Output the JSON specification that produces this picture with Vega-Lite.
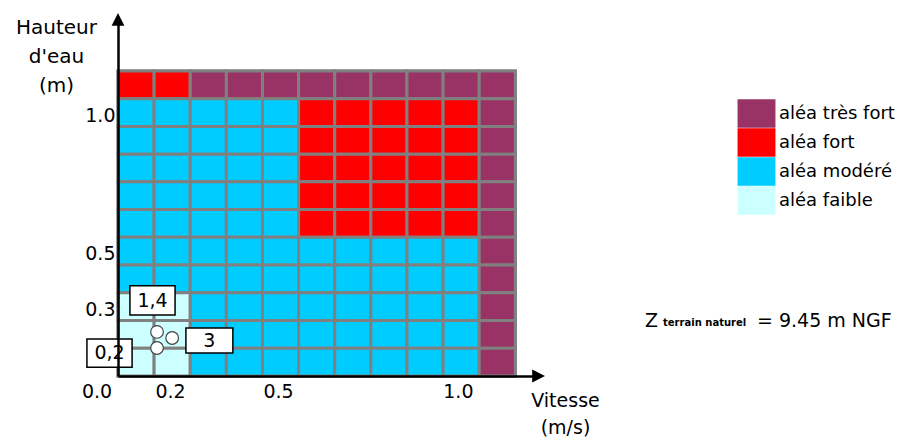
{
  "$schema": "https://vega.github.io/schema/vega-lite/v6.json",
  "width": 419,
  "height": 355,
  "autosize": {"type": "none"},
  "padding": {"left": 118, "top": 21, "right": 378, "bottom": 61},
  "background": "white",
  "config": {
    "view": {"stroke": null},
    "font": "DejaVu Sans",
    "text": {"font": "DejaVu Sans", "color": "black"}
  },
  "datasets": {
    "frame": [{"v0": 0, "v1": 11, "h0": 0, "h1": 11}],
    "cells": [
      {"v0":0,"v1":1,"h0":10,"h1":11,"alea":"aléa fort"},
      {"v0":1,"v1":2,"h0":10,"h1":11,"alea":"aléa fort"},
      {"v0":2,"v1":3,"h0":10,"h1":11,"alea":"aléa très fort"},
      {"v0":3,"v1":4,"h0":10,"h1":11,"alea":"aléa très fort"},
      {"v0":4,"v1":5,"h0":10,"h1":11,"alea":"aléa très fort"},
      {"v0":5,"v1":6,"h0":10,"h1":11,"alea":"aléa très fort"},
      {"v0":6,"v1":7,"h0":10,"h1":11,"alea":"aléa très fort"},
      {"v0":7,"v1":8,"h0":10,"h1":11,"alea":"aléa très fort"},
      {"v0":8,"v1":9,"h0":10,"h1":11,"alea":"aléa très fort"},
      {"v0":9,"v1":10,"h0":10,"h1":11,"alea":"aléa très fort"},
      {"v0":10,"v1":11,"h0":10,"h1":11,"alea":"aléa très fort"},

      {"v0":0,"v1":1,"h0":9,"h1":10,"alea":"aléa modéré"},
      {"v0":1,"v1":2,"h0":9,"h1":10,"alea":"aléa modéré"},
      {"v0":2,"v1":3,"h0":9,"h1":10,"alea":"aléa modéré"},
      {"v0":3,"v1":4,"h0":9,"h1":10,"alea":"aléa modéré"},
      {"v0":4,"v1":5,"h0":9,"h1":10,"alea":"aléa modéré"},
      {"v0":5,"v1":6,"h0":9,"h1":10,"alea":"aléa fort"},
      {"v0":6,"v1":7,"h0":9,"h1":10,"alea":"aléa fort"},
      {"v0":7,"v1":8,"h0":9,"h1":10,"alea":"aléa fort"},
      {"v0":8,"v1":9,"h0":9,"h1":10,"alea":"aléa fort"},
      {"v0":9,"v1":10,"h0":9,"h1":10,"alea":"aléa fort"},
      {"v0":10,"v1":11,"h0":9,"h1":10,"alea":"aléa très fort"},

      {"v0":0,"v1":1,"h0":8,"h1":9,"alea":"aléa modéré"},
      {"v0":1,"v1":2,"h0":8,"h1":9,"alea":"aléa modéré"},
      {"v0":2,"v1":3,"h0":8,"h1":9,"alea":"aléa modéré"},
      {"v0":3,"v1":4,"h0":8,"h1":9,"alea":"aléa modéré"},
      {"v0":4,"v1":5,"h0":8,"h1":9,"alea":"aléa modéré"},
      {"v0":5,"v1":6,"h0":8,"h1":9,"alea":"aléa fort"},
      {"v0":6,"v1":7,"h0":8,"h1":9,"alea":"aléa fort"},
      {"v0":7,"v1":8,"h0":8,"h1":9,"alea":"aléa fort"},
      {"v0":8,"v1":9,"h0":8,"h1":9,"alea":"aléa fort"},
      {"v0":9,"v1":10,"h0":8,"h1":9,"alea":"aléa fort"},
      {"v0":10,"v1":11,"h0":8,"h1":9,"alea":"aléa très fort"},

      {"v0":0,"v1":1,"h0":7,"h1":8,"alea":"aléa modéré"},
      {"v0":1,"v1":2,"h0":7,"h1":8,"alea":"aléa modéré"},
      {"v0":2,"v1":3,"h0":7,"h1":8,"alea":"aléa modéré"},
      {"v0":3,"v1":4,"h0":7,"h1":8,"alea":"aléa modéré"},
      {"v0":4,"v1":5,"h0":7,"h1":8,"alea":"aléa modéré"},
      {"v0":5,"v1":6,"h0":7,"h1":8,"alea":"aléa fort"},
      {"v0":6,"v1":7,"h0":7,"h1":8,"alea":"aléa fort"},
      {"v0":7,"v1":8,"h0":7,"h1":8,"alea":"aléa fort"},
      {"v0":8,"v1":9,"h0":7,"h1":8,"alea":"aléa fort"},
      {"v0":9,"v1":10,"h0":7,"h1":8,"alea":"aléa fort"},
      {"v0":10,"v1":11,"h0":7,"h1":8,"alea":"aléa très fort"},

      {"v0":0,"v1":1,"h0":6,"h1":7,"alea":"aléa modéré"},
      {"v0":1,"v1":2,"h0":6,"h1":7,"alea":"aléa modéré"},
      {"v0":2,"v1":3,"h0":6,"h1":7,"alea":"aléa modéré"},
      {"v0":3,"v1":4,"h0":6,"h1":7,"alea":"aléa modéré"},
      {"v0":4,"v1":5,"h0":6,"h1":7,"alea":"aléa modéré"},
      {"v0":5,"v1":6,"h0":6,"h1":7,"alea":"aléa fort"},
      {"v0":6,"v1":7,"h0":6,"h1":7,"alea":"aléa fort"},
      {"v0":7,"v1":8,"h0":6,"h1":7,"alea":"aléa fort"},
      {"v0":8,"v1":9,"h0":6,"h1":7,"alea":"aléa fort"},
      {"v0":9,"v1":10,"h0":6,"h1":7,"alea":"aléa fort"},
      {"v0":10,"v1":11,"h0":6,"h1":7,"alea":"aléa très fort"},

      {"v0":0,"v1":1,"h0":5,"h1":6,"alea":"aléa modéré"},
      {"v0":1,"v1":2,"h0":5,"h1":6,"alea":"aléa modéré"},
      {"v0":2,"v1":3,"h0":5,"h1":6,"alea":"aléa modéré"},
      {"v0":3,"v1":4,"h0":5,"h1":6,"alea":"aléa modéré"},
      {"v0":4,"v1":5,"h0":5,"h1":6,"alea":"aléa modéré"},
      {"v0":5,"v1":6,"h0":5,"h1":6,"alea":"aléa fort"},
      {"v0":6,"v1":7,"h0":5,"h1":6,"alea":"aléa fort"},
      {"v0":7,"v1":8,"h0":5,"h1":6,"alea":"aléa fort"},
      {"v0":8,"v1":9,"h0":5,"h1":6,"alea":"aléa fort"},
      {"v0":9,"v1":10,"h0":5,"h1":6,"alea":"aléa fort"},
      {"v0":10,"v1":11,"h0":5,"h1":6,"alea":"aléa très fort"},

      {"v0":0,"v1":1,"h0":4,"h1":5,"alea":"aléa modéré"},
      {"v0":1,"v1":2,"h0":4,"h1":5,"alea":"aléa modéré"},
      {"v0":2,"v1":3,"h0":4,"h1":5,"alea":"aléa modéré"},
      {"v0":3,"v1":4,"h0":4,"h1":5,"alea":"aléa modéré"},
      {"v0":4,"v1":5,"h0":4,"h1":5,"alea":"aléa modéré"},
      {"v0":5,"v1":6,"h0":4,"h1":5,"alea":"aléa modéré"},
      {"v0":6,"v1":7,"h0":4,"h1":5,"alea":"aléa modéré"},
      {"v0":7,"v1":8,"h0":4,"h1":5,"alea":"aléa modéré"},
      {"v0":8,"v1":9,"h0":4,"h1":5,"alea":"aléa modéré"},
      {"v0":9,"v1":10,"h0":4,"h1":5,"alea":"aléa modéré"},
      {"v0":10,"v1":11,"h0":4,"h1":5,"alea":"aléa très fort"},

      {"v0":0,"v1":1,"h0":3,"h1":4,"alea":"aléa modéré"},
      {"v0":1,"v1":2,"h0":3,"h1":4,"alea":"aléa modéré"},
      {"v0":2,"v1":3,"h0":3,"h1":4,"alea":"aléa modéré"},
      {"v0":3,"v1":4,"h0":3,"h1":4,"alea":"aléa modéré"},
      {"v0":4,"v1":5,"h0":3,"h1":4,"alea":"aléa modéré"},
      {"v0":5,"v1":6,"h0":3,"h1":4,"alea":"aléa modéré"},
      {"v0":6,"v1":7,"h0":3,"h1":4,"alea":"aléa modéré"},
      {"v0":7,"v1":8,"h0":3,"h1":4,"alea":"aléa modéré"},
      {"v0":8,"v1":9,"h0":3,"h1":4,"alea":"aléa modéré"},
      {"v0":9,"v1":10,"h0":3,"h1":4,"alea":"aléa modéré"},
      {"v0":10,"v1":11,"h0":3,"h1":4,"alea":"aléa très fort"},

      {"v0":0,"v1":1,"h0":2,"h1":3,"alea":"aléa faible"},
      {"v0":1,"v1":2,"h0":2,"h1":3,"alea":"aléa faible"},
      {"v0":2,"v1":3,"h0":2,"h1":3,"alea":"aléa modéré"},
      {"v0":3,"v1":4,"h0":2,"h1":3,"alea":"aléa modéré"},
      {"v0":4,"v1":5,"h0":2,"h1":3,"alea":"aléa modéré"},
      {"v0":5,"v1":6,"h0":2,"h1":3,"alea":"aléa modéré"},
      {"v0":6,"v1":7,"h0":2,"h1":3,"alea":"aléa modéré"},
      {"v0":7,"v1":8,"h0":2,"h1":3,"alea":"aléa modéré"},
      {"v0":8,"v1":9,"h0":2,"h1":3,"alea":"aléa modéré"},
      {"v0":9,"v1":10,"h0":2,"h1":3,"alea":"aléa modéré"},
      {"v0":10,"v1":11,"h0":2,"h1":3,"alea":"aléa très fort"},

      {"v0":0,"v1":1,"h0":1,"h1":2,"alea":"aléa faible"},
      {"v0":1,"v1":2,"h0":1,"h1":2,"alea":"aléa faible"},
      {"v0":2,"v1":3,"h0":1,"h1":2,"alea":"aléa modéré"},
      {"v0":3,"v1":4,"h0":1,"h1":2,"alea":"aléa modéré"},
      {"v0":4,"v1":5,"h0":1,"h1":2,"alea":"aléa modéré"},
      {"v0":5,"v1":6,"h0":1,"h1":2,"alea":"aléa modéré"},
      {"v0":6,"v1":7,"h0":1,"h1":2,"alea":"aléa modéré"},
      {"v0":7,"v1":8,"h0":1,"h1":2,"alea":"aléa modéré"},
      {"v0":8,"v1":9,"h0":1,"h1":2,"alea":"aléa modéré"},
      {"v0":9,"v1":10,"h0":1,"h1":2,"alea":"aléa modéré"},
      {"v0":10,"v1":11,"h0":1,"h1":2,"alea":"aléa très fort"},

      {"v0":0,"v1":1,"h0":0,"h1":1,"alea":"aléa faible"},
      {"v0":1,"v1":2,"h0":0,"h1":1,"alea":"aléa faible"},
      {"v0":2,"v1":3,"h0":0,"h1":1,"alea":"aléa modéré"},
      {"v0":3,"v1":4,"h0":0,"h1":1,"alea":"aléa modéré"},
      {"v0":4,"v1":5,"h0":0,"h1":1,"alea":"aléa modéré"},
      {"v0":5,"v1":6,"h0":0,"h1":1,"alea":"aléa modéré"},
      {"v0":6,"v1":7,"h0":0,"h1":1,"alea":"aléa modéré"},
      {"v0":7,"v1":8,"h0":0,"h1":1,"alea":"aléa modéré"},
      {"v0":8,"v1":9,"h0":0,"h1":1,"alea":"aléa modéré"},
      {"v0":9,"v1":10,"h0":0,"h1":1,"alea":"aléa modéré"},
      {"v0":10,"v1":11,"h0":0,"h1":1,"alea":"aléa très fort"}
    ],
    "boxes": [
      {"label": "1,4", "v0": 0.33, "v1": 1.58, "h0": 2.2, "h1": 3.25, "vc": 0.955, "hc": 2.72},
      {"label": "0,2", "v0": -0.86, "v1": 0.39, "h0": 0.32, "h1": 1.33, "vc": -0.235, "hc": 0.83},
      {"label": "3", "v0": 1.88, "v1": 3.18, "h0": 0.83, "h1": 1.73, "vc": 2.53, "hc": 1.28}
    ],
    "points": [
      {"v": 1.08, "h": 1.59},
      {"v": 1.5, "h": 1.37},
      {"v": 1.08, "h": 1.01}
    ],
    "arrows": [
      {"axis": "y", "v": 0, "h": 12.8},
      {"axis": "x", "v": 11.6, "h": 0}
    ],
    "notes": [
      {"part": "Z", "v": 14.59, "h": 1.98},
      {"part": "terrain naturel", "v": 15.09, "h": 1.8},
      {"part": "= 9.45 m NGF", "v": 17.69, "h": 1.98}
    ],
    "origin": [
      {"label": "0.0", "v": -0.58, "h": -0.58}
    ]
  },
  "layer": [
    {
      "data": {"name": "frame"},
      "mark": {"type": "rect", "fill": "#808080", "stroke": "#808080", "strokeWidth": 3},
      "encoding": {
        "x": {
          "field": "v0", "type": "quantitative",
          "scale": {"domain": [0, 11.6], "nice": false, "zero": false},
          "axis": {
            "values": [1.44, 4.43, 9.41],
            "labelExpr": "datum.value < 2 ? '0.2' : datum.value < 5 ? '0.5' : '1.0'",
            "ticks": false, "grid": false, "labelFlush": false, "labelOverlap": false,
            "labelFont": "DejaVu Sans", "labelFontSize": 19, "labelColor": "black", "labelPadding": 6,
            "domainColor": "black", "domainWidth": 2.5, "zindex": 1,
            "title": ["Vitesse", "(m/s)"], "titleFont": "DejaVu Sans", "titleFontSize": 19, "titleFontWeight": "normal",
            "titleColor": "black", "titleAnchor": null, "titleAlign": "center", "titleBaseline": "top",
            "titleX": 447, "titleY": 15, "titleLineHeight": 27
          }
        },
        "x2": {"field": "v1"},
        "y": {
          "field": "h0", "type": "quantitative",
          "scale": {"domain": [0, 12.8], "nice": false, "zero": false},
          "axis": {
            "values": [2.4, 4.4, 9.4],
            "labelExpr": "datum.value < 3 ? '0.3' : datum.value < 5 ? '0.5' : '1.0'",
            "ticks": false, "grid": false, "labelFlush": false, "labelOverlap": false,
            "labelFont": "DejaVu Sans", "labelFontSize": 19, "labelColor": "black", "labelPadding": 3,
            "domainColor": "black", "domainWidth": 2.5, "zindex": 1,
            "title": ["Hauteur", "d'eau", "(m)"], "titleFont": "DejaVu Sans", "titleFontSize": 20, "titleFontWeight": "normal",
            "titleColor": "black", "titleAngle": 0, "titleAnchor": null, "titleAlign": "center", "titleBaseline": "top",
            "titleX": -62, "titleY": -4, "titleLineHeight": 29
          }
        },
        "y2": {"field": "h1"}
      }
    },
    {
      "data": {"name": "cells"},
      "mark": {"type": "rect", "stroke": "#808080", "strokeWidth": 3},
      "encoding": {
        "x": {"field": "v0", "type": "quantitative"},
        "x2": {"field": "v1"},
        "y": {"field": "h0", "type": "quantitative"},
        "y2": {"field": "h1"},
        "color": {
          "field": "alea", "type": "nominal",
          "scale": {
            "domain": ["aléa très fort", "aléa fort", "aléa modéré", "aléa faible"],
            "range": ["#993366", "#ff0000", "#00ccff", "#ccffff"]
          },
          "legend": {
            "title": null, "orient": "none", "legendX": 624, "legendY": 78,
            "symbolType": "M-1.33,-1H1.33V1H-1.33Z", "symbolSize": 812, "symbolStrokeWidth": 0, "symbolOpacity": 1,
            "rowPadding": 0, "padding": 0, "labelOffset": 8,
            "labelFont": "DejaVu Sans", "labelFontSize": 18, "labelColor": "black", "labelLimit": 300
          }
        }
      }
    },
    {
      "data": {"name": "boxes"},
      "mark": {"type": "rect", "fill": "white", "stroke": "black", "strokeWidth": 1.5},
      "encoding": {
        "x": {"field": "v0", "type": "quantitative"},
        "x2": {"field": "v1"},
        "y": {"field": "h0", "type": "quantitative"},
        "y2": {"field": "h1"}
      }
    },
    {
      "data": {"name": "boxes"},
      "mark": {"type": "text", "fontSize": 19, "font": "DejaVu Sans", "color": "black", "align": "center", "baseline": "middle"},
      "encoding": {
        "x": {"field": "vc", "type": "quantitative"},
        "y": {"field": "hc", "type": "quantitative"},
        "text": {"field": "label"}
      }
    },
    {
      "data": {"name": "points"},
      "mark": {"type": "point", "shape": "circle", "filled": true, "fill": "white", "stroke": "#444444", "strokeWidth": 1.2, "size": 160, "opacity": 1},
      "encoding": {
        "x": {"field": "v", "type": "quantitative"},
        "y": {"field": "h", "type": "quantitative"}
      }
    },
    {
      "data": {"name": "arrows"},
      "transform": [{"filter": "datum.axis == 'y'"}],
      "mark": {"type": "point", "shape": "M0,-1L0.8,0.6L-0.8,0.6Z", "filled": true, "fill": "black", "size": 256, "opacity": 1, "strokeWidth": 0},
      "encoding": {
        "x": {"field": "v", "type": "quantitative"},
        "y": {"field": "h", "type": "quantitative"}
      }
    },
    {
      "data": {"name": "arrows"},
      "transform": [{"filter": "datum.axis == 'x'"}],
      "mark": {"type": "point", "shape": "M1,0L-0.6,0.8L-0.6,-0.8Z", "filled": true, "fill": "black", "size": 256, "opacity": 1, "strokeWidth": 0},
      "encoding": {
        "x": {"field": "v", "type": "quantitative"},
        "y": {"field": "h", "type": "quantitative"}
      }
    },
    {
      "data": {"name": "origin"},
      "mark": {"type": "text", "fontSize": 19, "font": "DejaVu Sans", "color": "black", "align": "center", "baseline": "middle"},
      "encoding": {
        "x": {"field": "v", "type": "quantitative"},
        "y": {"field": "h", "type": "quantitative"},
        "text": {"field": "label"}
      }
    },
    {
      "data": {"name": "notes"},
      "transform": [{"filter": "datum.part != 'terrain naturel'"}],
      "mark": {"type": "text", "fontSize": 19, "font": "DejaVu Sans", "color": "black", "align": "left", "baseline": "middle"},
      "encoding": {
        "x": {"field": "v", "type": "quantitative"},
        "y": {"field": "h", "type": "quantitative"},
        "text": {"field": "part"}
      }
    },
    {
      "data": {"name": "notes"},
      "transform": [{"filter": "datum.part == 'terrain naturel'"}],
      "mark": {"type": "text", "fontSize": 10, "fontWeight": "bold", "font": "DejaVu Sans", "color": "black", "align": "left", "baseline": "alphabetic"},
      "encoding": {
        "x": {"field": "v", "type": "quantitative"},
        "y": {"field": "h", "type": "quantitative"},
        "text": {"field": "part"}
      }
    }
  ]
}
